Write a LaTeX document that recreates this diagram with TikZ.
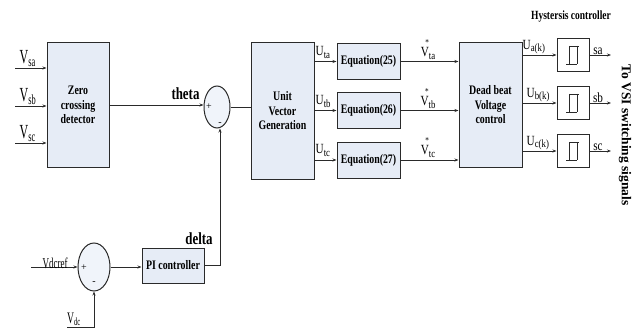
\documentclass[tikz,border=0pt]{standalone}
\usepackage{fontspec}
\setmainfont{Liberation Serif}
\newfontfamily\cf[FakeStretch=0.76]{Liberation Serif}
\newfontfamily\lf[FakeStretch=0.6]{Liberation Serif}
\newfontfamily\mf[FakeStretch=0.8]{Liberation Serif}
\newcommand\lsub[1]{\raisebox{-2.5pt}{\fontsize{11}{11}\selectfont #1}}
\newcommand\lstar{\llap{\raisebox{11pt}{\fontsize{9}{9}\selectfont *}}}
\usetikzlibrary{arrows.meta,shapes.geometric}
\definecolor{boxfill}{HTML}{E6ECF6}
\definecolor{edge}{HTML}{2A2A2A}
\tikzset{
 blk/.style={draw=edge, line width=1pt, fill=boxfill, align=center, font=\cf\bfseries\fontsize{13}{14.5}\selectfont, inner sep=0pt},
 hyst/.style={draw=edge, line width=1pt, fill=white, minimum width=32pt, minimum height=33pt, inner sep=0pt},
 sumj/.style={ellipse, draw=edge, line width=1pt, fill=boxfill!60!white, inner sep=0pt},
 sig/.style={-{Stealth[length=4pt,width=3pt]}, line width=0.9pt, draw=edge},
 wire/.style={line width=0.9pt, draw=edge},
 lbl/.style={inner sep=0.5pt, font=\mf\fontsize{14}{15}\selectfont},
 inlbl/.style={inner sep=0.5pt, font=\lf\fontsize{20}{21}\selectfont},
 biglbl/.style={font=\cf\bfseries\fontsize{17}{18}\selectfont, inner sep=0pt},
 signlbl/.style={font=\fontsize{10}{10}\selectfont, inner sep=0pt},
}
\begin{document}
\begin{tikzpicture}[x=1pt,y=-1pt]
\useasboundingbox (0,0) rectangle (635,329);
% blocks
\node[blk, minimum width=62pt, minimum height=124pt] (zcd) at (78,105) {Zero\\crossing\\detector};
\node[blk, minimum width=63pt, minimum height=136pt] (uvg) at (282.5,111) {Unit\\Vector\\Generation};
\node[blk, minimum width=63pt, minimum height=36pt] (eq1) at (368.5,61.5) {Equation(25)};
\node[blk, minimum width=63pt, minimum height=36pt] (eq2) at (368.5,110.5) {Equation(26)};
\node[blk, minimum width=63pt, minimum height=36pt] (eq3) at (368.5,160) {Equation(27)};
\node[blk, minimum width=63pt, minimum height=124pt] (db) at (490.5,105) {Dead beat\\Voltage\\control};
\node[hyst] (h1) at (573,55) {};
\node[hyst] (h2) at (573,103) {};
\node[hyst] (h3) at (573,151) {};
\node[blk, minimum width=62pt, minimum height=35pt] (pi) at (173,265.5) {PI controller};
\node[sumj, minimum width=26pt, minimum height=42pt] (s1) at (217,107) {};
\node[sumj, minimum width=32pt, minimum height=48pt] (s2) at (94,267) {};
% signs
\node[signlbl] (p1) at (209,107) {+};
\node[signlbl] (m1) at (220,124) {-};
\node[signlbl] (p2) at (84,268) {+};
\node[signlbl] (m2) at (94,283) {-};
% hysteresis symbols
\foreach \n in {h1,h2,h3}{
  \draw[wire, line width=0.8pt] ([shift={(-4,-9)}]\n.center) -- ([shift={(6,-9)}]\n.center);
  \draw[wire, line width=0.8pt] ([shift={(-4,-9)}]\n.center) -- ([shift={(-4,9)}]\n.center);
  \draw[wire, line width=0.8pt] ([shift={(4,-9)}]\n.center) -- ([shift={(4,9)}]\n.center);
  \draw[wire, line width=0.8pt] ([shift={(-7,9)}]\n.center) -- ([shift={(4,9)}]\n.center);
}
% inputs
\coordinate (in1) at (15,68);
\coordinate (in2) at (15,106);
\coordinate (in3) at (15,143);
\draw[sig] (in1) -- (in1 -| zcd.west);
\draw[sig] (in2) -- (in2 -| zcd.west);
\draw[sig] (in3) -- (in3 -| zcd.west);
\node[inlbl, anchor=south west] (lsa) at (19,67) {V\textsubscript{sa}};
\node[inlbl, anchor=south west] (lsb) at (19,105) {V\textsubscript{sb}};
\node[inlbl, anchor=south west] (lsc) at (19,142) {V\textsubscript{sc}};
% theta
\draw[sig] (zcd.east) -- (zcd.east -| s1.west);
\node[biglbl] (theta) at (185.5,94) {theta};
\draw[wire] (s1.east) -- (s1.east -| uvg.west);
% UVG to equations
\draw[sig] (uvg.east |- eq1.west) -- (eq1.west);
\draw[sig] (uvg.east |- eq2.west) -- (eq2.west);
\draw[sig] (uvg.east |- eq3.west) -- (eq3.west);
\node[lbl, anchor=south west] (lua) at (315,59) {U\lsub{ta}};
\node[lbl, anchor=south west] (lub) at (315,108) {U\lsub{tb}};
\node[lbl, anchor=south west] (luc) at (315,157) {U\lsub{tc}};
% equations to dead beat
\draw[sig] (eq1.east) -- (eq1.east -| db.west);
\draw[sig] (eq2.east) -- (eq2.east -| db.west);
\draw[sig] (eq3.east) -- (eq3.east -| db.west);
\node[lbl, anchor=south] (lva) at (428,60) {V\lstar\lsub{ta}};
\node[lbl, anchor=south] (lvb) at (428,109) {V\lstar\lsub{tb}};
\node[lbl, anchor=south] (lvc) at (428,158) {V\lstar\lsub{tc}};
% dead beat to hysteresis
\draw[sig] (db.east |- h1.west) -- (h1.west);
\draw[sig] (db.east |- h2.west) -- (h2.west);
\draw[sig] (db.east |- h3.west) -- (h3.west);
\node[lbl, anchor=south west] (lka) at (522,55) {U\lsub{a(k)}};
\node[lbl, anchor=south west] (lkb) at (526,103) {U\lsub{b(k)}};
\node[lbl, anchor=south west] (lkc) at (526,151) {U\lsub{c(k)}};
% outputs
\coordinate (o1) at (611,55);
\coordinate (o2) at (611,103);
\coordinate (o3) at (611,151);
\draw[sig] (h1.east) -- (o1);
\draw[sig] (h2.east) -- (o2);
\draw[sig] (h3.east) -- (o3);
\node[lbl, anchor=south] (lsa2) at (598,55.5) {sa};
\node[lbl, anchor=south] (lsb2) at (598,103.5) {sb};
\node[lbl, anchor=south] (lsc2) at (598,151.5) {sc};
\node[font=\cf\bfseries\fontsize{12.5}{13}\selectfont, inner sep=0pt] (hc) at (571,17) {Hystersis controller};
\node[font=\bfseries\fontsize{13.5}{14}\selectfont, inner sep=0pt, rotate=-90] (vsi) at (625,135) {To VSI switching signals};
% lower loop
\coordinate (vref) at (31,267);
\draw[sig] (vref) -- (s2.west);
\node[inner sep=0.5pt, font=\lf\fontsize{15}{16}\selectfont, anchor=south west] (lvref) at (42,269) {Vdcref};
\draw[sig] (s2.east) -- (s2.east -| pi.west);
\draw[sig] (pi.east) -| ([xshift=3pt]s1.south);
\node[biglbl] (delta) at (199,238.5) {delta};
\coordinate (vdc) at (67,327);
\draw[sig] (vdc) -| (s2.south);
\node[inner sep=0pt, font=\lf\fontsize{16}{17}\selectfont, anchor=base west] (lvdc) at (67,323) {V\lsub{dc}};
\end{tikzpicture}
\end{document}
